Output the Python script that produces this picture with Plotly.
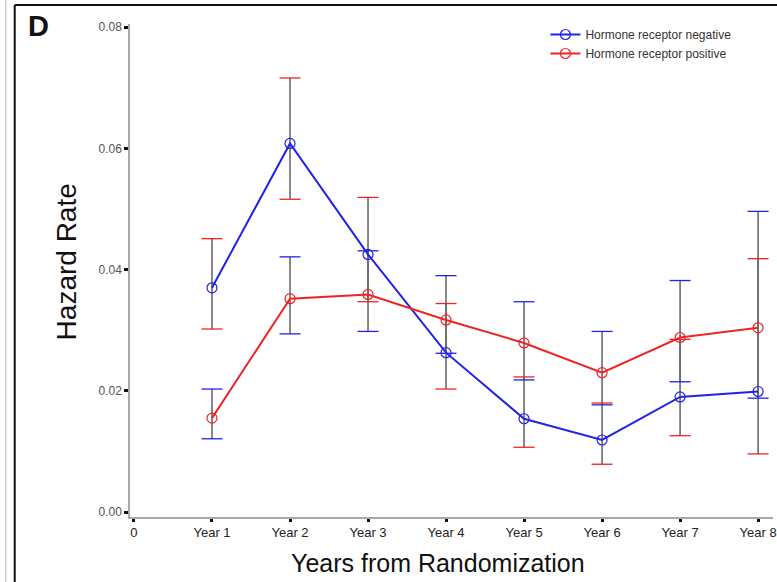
import plotly.graph_objects as go

# Hazard rates by year since randomization, with 95% confidence limits
years = [1, 2, 3, 4, 5, 6, 7, 8]
tick_vals = [0, 1, 2, 3, 4, 5, 6, 7, 8]
tick_text = ["0", "Year 1", "Year 2", "Year 3", "Year 4", "Year 5", "Year 6", "Year 7", "Year 8"]

neg_rate = [0.0370, 0.0608, 0.0425, 0.0263, 0.0154, 0.0119, 0.0190, 0.0199]
neg_low = [0.0302, 0.0516, 0.0347, 0.0203, 0.0107, 0.0079, 0.0126, 0.0096]
neg_high = [0.0451, 0.0716, 0.0519, 0.0344, 0.0223, 0.0180, 0.0285, 0.0418]

pos_rate = [0.0155, 0.0352, 0.0359, 0.0317, 0.0279, 0.0230, 0.0288, 0.0304]
pos_low = [0.0121, 0.0294, 0.0298, 0.0262, 0.0218, 0.0177, 0.0215, 0.0188]
pos_high = [0.0203, 0.0421, 0.0431, 0.0390, 0.0347, 0.0298, 0.0382, 0.0496]

BLUE = "#2222e6"
RED = "#ee2424"
STEM = "#6a6a6a"

W, H = 777, 582
ML, MR, MT, MB = 130, 0, 24, 65


def px(x):
    return (x - ML) / (W - ML - MR)


def py(y):
    return (H - MB - y) / (H - MT - MB)


fig = go.Figure()

series = [
    ("Hormone receptor negative", neg_rate, neg_low, neg_high, BLUE, RED),
    ("Hormone receptor positive", pos_rate, pos_low, pos_high, RED, BLUE),
]

# vertical confidence stems
for name, rate, lo, hi, col, capcol in series:
    fig.add_trace(go.Scatter(
        x=years, y=rate, mode="markers",
        marker=dict(size=1, opacity=0),
        error_y=dict(type="data", symmetric=False,
                     array=[h - r for h, r in zip(hi, rate)],
                     arrayminus=[r - l for r, l in zip(rate, lo)],
                     color=STEM, thickness=1.6, width=0),
        showlegend=False, hoverinfo="skip",
    ))

# rate lines with open circle markers
for name, rate, lo, hi, col, capcol in series:
    fig.add_trace(go.Scatter(
        x=years, y=rate, mode="lines+markers", name=name,
        line=dict(color=col, width=2),
        marker=dict(symbol="circle-open", size=10, color=col, line=dict(width=1.2)),
    ))

# caps at the confidence limits
for name, rate, lo, hi, col, capcol in series:
    fig.add_trace(go.Scatter(
        x=years + years, y=lo + hi, mode="markers",
        marker=dict(symbol="line-ew", size=15, line=dict(color=capcol, width=1.3)),
        showlegend=False, hoverinfo="skip",
    ))

fig.update_layout(
    width=W, height=H,
    margin=dict(l=ML, r=MR, t=MT, b=MB),
    paper_bgcolor="white", plot_bgcolor="white",
    font=dict(family="Liberation Sans, Arial, sans-serif", color="#222"),
    showlegend=True,
    legend=dict(x=px(548), y=py(20), xanchor="left", yanchor="top",
                bgcolor="rgba(0,0,0,0)", font=dict(size=12, color="#333"),
                tracegroupgap=0, itemwidth=30),
    xaxis=dict(range=[-0.051, 8.191], tickvals=tick_vals, ticktext=tick_text,
               showline=True, linecolor="#a8a8a8", linewidth=1.5,
               ticks="outside", ticklen=3, tickwidth=3, tickcolor="#111",
               tickfont=dict(size=13, color="#222"), ticklabeloverflow="allow",
               showgrid=False, zeroline=False),
    yaxis=dict(range=[-0.0008, 0.0805], tickvals=[0, 0.02, 0.04, 0.06, 0.08],
               tickformat=".2f",
               showline=True, linecolor="#a8a8a8", linewidth=1.5,
               ticks="outside", ticklen=4, tickwidth=3, tickcolor="#111",
               tickfont=dict(size=12, color="#555"),
               showgrid=False, zeroline=False),
    annotations=[
        dict(text="<b>D</b>", x=px(38), y=py(26), xref="paper", yref="paper",
             xanchor="center", yanchor="middle",
             showarrow=False, font=dict(size=29, color="#111")),
        dict(text="Hazard Rate", x=px(66), y=py(262), xref="paper", yref="paper",
             xanchor="center", yanchor="middle",
             showarrow=False, textangle=-90, font=dict(size=28, color="#111")),
        dict(text="Years from Randomization", x=px(440), y=py(563), xref="paper",
             yref="paper", xanchor="center", yanchor="middle",
             showarrow=False, font=dict(size=25, color="#111")),
    ],
    shapes=[
        dict(type="line", xref="paper", yref="paper", x0=px(14), x1=px(14),
             y0=py(5), y1=py(600), line=dict(color="#111", width=2)),
        dict(type="line", xref="paper", yref="paper", x0=px(14), x1=px(800),
             y0=py(5), y1=py(5), line=dict(color="#111", width=2)),
        dict(type="line", xref="paper", yref="paper", x0=px(5), x1=px(5),
             y0=py(0), y1=py(600), line=dict(color="#cfcfcf", width=1.5)),
    ],
)

fig.write_html("out.html")
